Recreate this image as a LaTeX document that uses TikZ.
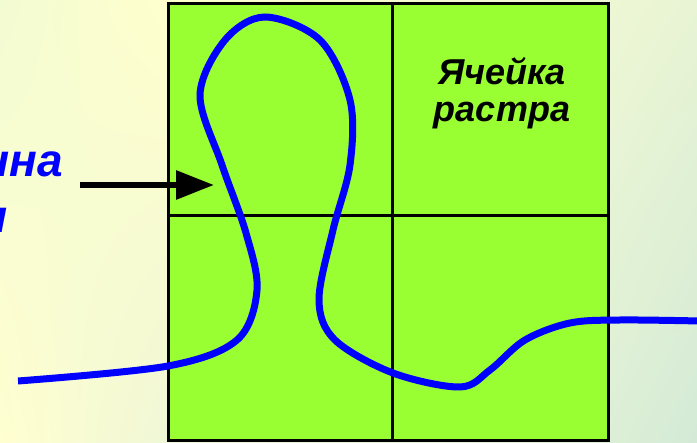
\documentclass[tikz,border=0pt]{standalone}
\usepackage{fontspec}
\setmainfont{Liberation Sans}
\usetikzlibrary{arrows.meta,shadings}
\definecolor{cellgreen}{RGB}{153,255,51}
\definecolor{curveblue}{RGB}{0,0,255}
\definecolor{bgLTL}{RGB}{243,251,210}
\definecolor{bgLTR}{RGB}{255,255,205}
\definecolor{bgLBL}{RGB}{255,255,208}
\definecolor{bgLBR}{RGB}{240,247,214}
\definecolor{bgRTL}{RGB}{238,247,212}
\definecolor{bgRTR}{RGB}{232,244,212}
\definecolor{bgRBL}{RGB}{220,239,214}
\definecolor{bgRBR}{RGB}{212,234,214}
\begin{document}
\begin{tikzpicture}[x=1pt,y=-1pt,
  gridline/.style={line width=3pt, black},
  curveline/.style={line width=7pt, curveblue},
  pointer/.style={line width=6pt, black, -{Triangle[length=38pt,width=28pt]}},
  celltext/.style={font=\bfseries\itshape\fontsize{36}{42}\selectfont, black, inner sep=0pt},
  sidetext/.style={font=\bfseries\itshape\fontsize{46}{55}\selectfont, curveblue, inner sep=0pt}]
\useasboundingbox (0,0) rectangle (697,443);
\clip (0,0) rectangle (697,443);
% background
\shade[upper left=bgLTL, upper right=bgLTR, lower left=bgLBL, lower right=bgLBR] (0,0) rectangle (168.5,443);
\shade[upper left=bgLTR, upper right=bgRTL, lower left=bgLBR, lower right=bgRBL] (168,0) rectangle (608.5,443);
\shade[upper left=bgRTL, upper right=bgRTR, lower left=bgRBL, lower right=bgRBR] (608,0) rectangle (697,443);
% grid
\coordinate (gTL) at (168,4);
\coordinate (gBR) at (608,441);
\fill[cellgreen] (gTL) rectangle (gBR);
\draw[gridline] (gTL) rectangle (gBR);
\draw[gridline] (392,4) -- (392,441);
\draw[gridline] (168,216) -- (608,216);
% labels
\node[celltext, anchor=base] (lab1) at (502,85) {Ячейка};
\node[celltext, anchor=base] (lab2) at (502,122) {растра};
\node[sidetext, anchor=base east] (side1) at (63,177) {ина};
\node[sidetext, anchor=base east] (side2) at (8,233) {и};
% arrow
\coordinate (arrowtail) at (80,185);
\coordinate (arrowtip) at (214,185);
\draw[pointer] (arrowtail) -- (arrowtip);
% curve
\draw[curveline] plot[smooth, tension=0.55] coordinates {
 (18,381) (168,366) (237,340) (257,290) (246,233) (222,165) (200,95)
 (225,40) (265,17) (320,40) (350,100) (350,165) (333,230) (319,300)
 (335,340) (393,373) (460,387) (490,370) (525,340) (570,323) (620,320) (700,321)};
\end{tikzpicture}
\end{document}
